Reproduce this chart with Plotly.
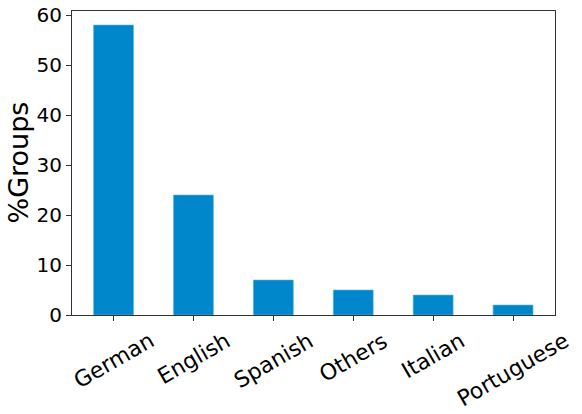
import plotly.graph_objects as go

categories = ["German", "English", "Spanish", "Others", "Italian", "Portuguese"]
values = [58, 24, 7, 5, 4, 2]
y_ticks = [0, 10, 20, 30, 40, 50, 60]
y_title = "%Groups"

FONT = "DejaVu Sans"

fig = go.Figure()
fig.add_trace(go.Bar(
    x=list(range(len(categories))),
    y=values,
    width=0.5,
    marker=dict(color="#0086CB", line=dict(color="#5BB8EC", width=0.6)),
))

for i, c in enumerate(categories):
    fig.add_annotation(
        x=i, y=0, xref="x", yref="paper",
        text=c, showarrow=False, textangle=-30,
        xanchor="center", yanchor="top", yshift=-10,
        font=dict(family=FONT, size=22, color="#000000"),
    )

fig.add_annotation(
    x=0, y=0.5, xref="paper", yref="paper",
    text=y_title, showarrow=False, textangle=-90,
    xanchor="left", yanchor="middle", xshift=-72,
    font=dict(family=FONT, size=27, color="#000000"),
)

fig.update_layout(
    width=582, height=414,
    margin=dict(l=72, r=27, t=11, b=99),
    plot_bgcolor="white", paper_bgcolor="white",
    showlegend=False,
    font=dict(family=FONT, color="#000000"),
)
fig.update_xaxes(
    range=[-0.52, 5.525], automargin=False,
    tickvals=list(range(len(categories))), ticktext=[""] * len(categories),
    ticks="outside", ticklen=5, tickcolor="#333333", tickwidth=1,
    showline=True, linecolor="#333333", linewidth=1, mirror=True,
    showgrid=False, zeroline=False,
)
fig.update_yaxes(
    range=[0, 60.8], automargin=False, ticklabeloverflow="allow",
    tickvals=y_ticks, ticktext=[str(v) for v in y_ticks],
    ticks="outside", ticklen=5, tickcolor="#333333", tickwidth=1,
    tickfont=dict(family=FONT, size=20, color="#000000"),
    showline=True, linecolor="#333333", linewidth=1, mirror=True,
    showgrid=False, zeroline=False,
)

# remove the default 8px page margin so the figure fills the window exactly
fig.write_html("out.html", config={"displayModeBar": False},
               post_script="document.body.style.margin='0';")
